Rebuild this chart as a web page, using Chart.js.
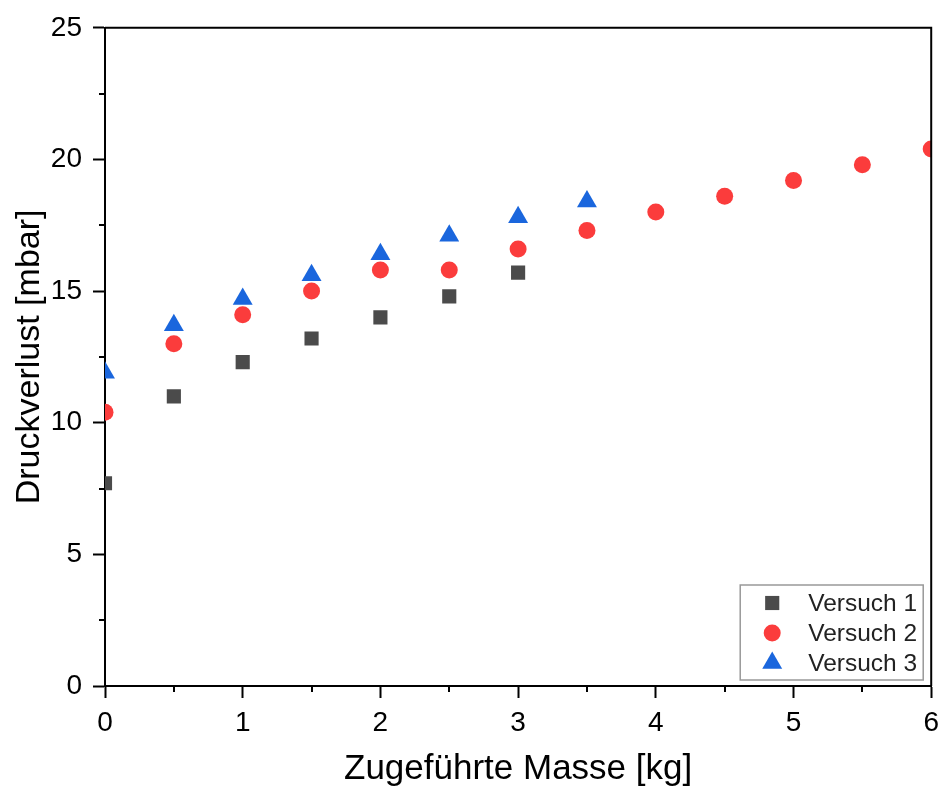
<!DOCTYPE html>
<html>
<head>
<meta charset="utf-8">
<script src="https://cdn.jsdelivr.net/npm/chart.js@4/dist/chart.umd.min.js"></script>
<style>
    html, body { margin: 0; background: #fff; overflow: hidden; }
    #wrap { position: relative; width: 947px; height: 790px; }
    canvas { display: block; }
</style>
</head>
<body>
<div id="wrap"><canvas id="myChart"></canvas></div>
<script>
// values
const massV1 = [0, 0.5, 1, 1.5, 2, 2.5, 3];
const druckV1 = [7.7, 11.0, 12.3, 13.2, 14.0, 14.8, 15.7];

const massV2 = [0, 0.5, 1, 1.5, 2, 2.5, 3, 3.5, 4, 4.5, 5, 5.5, 6];
const druckV2 = [10.4, 13.0, 14.1, 15.0, 15.8, 15.8, 16.6, 17.3, 18.0, 18.6, 19.2, 19.8, 20.4];

const massV3 = [0, 0.5, 1, 1.5, 2, 2.5, 3, 3.5];
const druckV3 = [11.9, 13.7, 14.7, 15.6, 16.4, 17.1, 17.8, 18.4];

const seriesLabels = ['Versuch 1', 'Versuch 2', 'Versuch 3'];
const xTitle = 'Zugeführte Masse [kg]';
const yTitle = 'Druckverlust [mbar]';

const FONT = "'Liberation Sans', Arial, sans-serif";

function toPoints(xs, ys) {
    return xs.map((x, i) => ({ x: x, y: ys[i] }));
}

// short outward ticks halfway between the labelled ones
const minorTicks = {
    id: 'minorTicks',
    afterDraw(chart) {
        const ctx = chart.ctx;
        const a = chart.chartArea;
        ctx.save();
        ctx.strokeStyle = '#000';
        ctx.lineWidth = 2;
        ['x', 'y'].forEach(id => {
            const s = chart.scales[id];
            for (let i = 0; i < s.ticks.length - 1; i++) {
                const v = (s.ticks[i].value + s.ticks[i + 1].value) / 2;
                const p = Math.round(s.getPixelForValue(v));
                ctx.beginPath();
                if (id === 'x') {
                    ctx.moveTo(p, a.bottom);
                    ctx.lineTo(p, a.bottom + 6);
                } else {
                    ctx.moveTo(a.left, p);
                    ctx.lineTo(a.left - 6, p);
                }
                ctx.stroke();
            }
        });
        // top and right frame
        ctx.beginPath();
        ctx.moveTo(a.left, a.top);
        ctx.lineTo(a.right, a.top);
        ctx.lineTo(a.right, a.bottom);
        ctx.stroke();
        ctx.restore();
    }
};

// boxed legend inside the lower right corner
const boxLegend = {
    id: 'boxLegend',
    afterDraw(chart) {
        const ctx = chart.ctx;
        const a = chart.chartArea;
        const w = 183, h = 95;
        const x0 = a.right - 8 - w;
        const y0 = a.bottom - 6 - h;
        ctx.save();
        ctx.fillStyle = '#fff';
        ctx.fillRect(x0, y0, w, h);
        ctx.strokeStyle = '#999';
        ctx.lineWidth = 1.5;
        ctx.strokeRect(x0, y0, w, h);
        chart.data.datasets.forEach((ds, i) => {
            const cy = y0 + 18 + i * 30;
            const cx = x0 + 32;
            ctx.fillStyle = ds.backgroundColor;
            ctx.strokeStyle = ds.backgroundColor;
            Chart.helpers.drawPoint(ctx, {
                pointStyle: ds.pointStyle,
                radius: ds.pointRadius,
                rotation: 0,
                borderWidth: 0
            }, cx, cy);
            ctx.fillStyle = '#222';
            ctx.font = '24.5px ' + FONT;
            ctx.textAlign = 'left';
            ctx.textBaseline = 'middle';
            ctx.fillText(ds.label, x0 + 68, cy + 1);
        });
        ctx.restore();
    }
};

const ctx = document.getElementById('myChart').getContext('2d');
new Chart(ctx, {
    type: 'scatter',
    data: {
        datasets: [{
            label: seriesLabels[0],
            data: toPoints(massV1, druckV1),
            pointStyle: 'rect',
            pointRadius: 10,
            borderWidth: 0,
            backgroundColor: '#4b4b4b',
            borderColor: '#4b4b4b'
        }, {
            label: seriesLabels[1],
            data: toPoints(massV2, druckV2),
            pointStyle: 'circle',
            pointRadius: 8.5,
            borderWidth: 0,
            backgroundColor: '#fb3c3c',
            borderColor: '#fb3c3c'
        }, {
            label: seriesLabels[2],
            data: toPoints(massV3, druckV3),
            pointStyle: 'triangle',
            pointRadius: 11.5,
            borderWidth: 0,
            backgroundColor: '#1a66dd',
            borderColor: '#1a66dd'
        }]
    },
    options: {
        responsive: true,
        maintainAspectRatio: false,
        animation: false,
        events: [],
        layout: { autoPadding: false, padding: { top: 25, right: 0, left: 0, bottom: 0 } },
        plugins: {
            legend: { display: false },
            tooltip: { enabled: false }
        },
        scales: {
            x: {
                type: 'linear',
                min: 0,
                max: 6,
                afterFit: s => { s.height = 104; },
                ticks: {
                    stepSize: 1,
                    color: '#000',
                    padding: 8,
                    font: { family: FONT, size: 28 }
                },
                grid: { drawOnChartArea: false, tickLength: 12, tickWidth: 2, tickColor: '#000' },
                border: { display: true, color: '#000', width: 2 },
                title: {
                    display: true,
                    text: xTitle,
                    color: '#000',
                    padding: { top: 0, bottom: 3 },
                    font: { family: FONT, size: 35, lineHeight: 1 }
                }
            },
            y: {
                type: 'linear',
                min: 0,
                max: 25,
                afterFit: s => { s.width = 105; },
                ticks: {
                    stepSize: 5,
                    color: '#000',
                    padding: 11,
                    font: { family: FONT, size: 28 }
                },
                grid: { drawOnChartArea: false, tickLength: 12, tickWidth: 2, tickColor: '#000' },
                border: { display: true, color: '#000', width: 2 },
                title: {
                    display: true,
                    text: yTitle,
                    color: '#000',
                    padding: { top: 13, bottom: 0 },
                    font: { family: FONT, size: 34, lineHeight: 1 }
                }
            }
        }
    },
    plugins: [minorTicks, boxLegend]
});
</script>
</body>
</html>
